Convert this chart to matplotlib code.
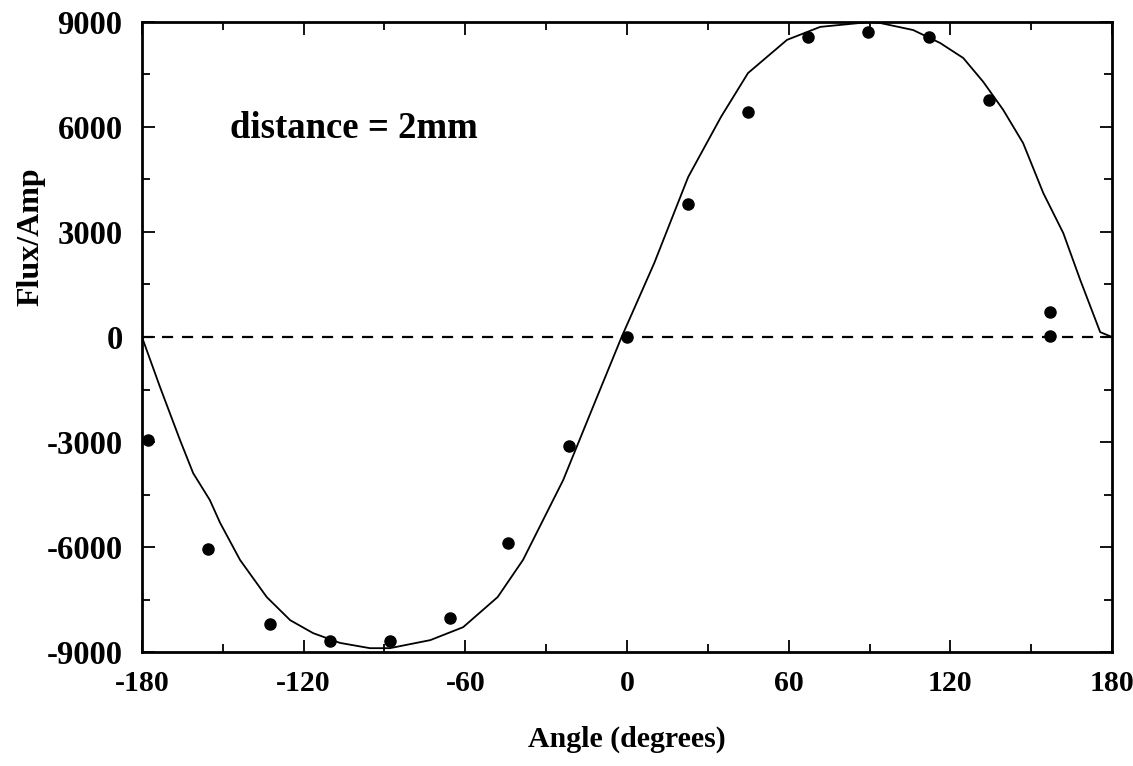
import matplotlib.pyplot as plt
from matplotlib.ticker import MultipleLocator

# measured points
angle = [-177.8, -155.5, -132.5, -110.2, -87.9, -65.7, -44.1, -21.5, 0.0,
         22.7, 45.0, 67.2, 89.5, 112.1, 134.4, 157.0, 157.0]
flux = [-2950, -6060, -8200, -8690, -8690, -8030, -5890, -3110, 0,
        3800, 6430, 8570, 8710, 8570, 6770, 710, 30]

# fitted curve
fit_angle = [-180, -173.3, -165.9, -161, -154.8, -151, -143.6, -133.7, -125,
             -116.5, -106.5, -95.4, -88, -73, -60.8, -48, -38.6, -23.7, -11.1,
             -2, 10.1, 22.7, 34.9, 44.9, 59.4, 71.7, 90.2, 94, 106.2, 116.2,
             124.8, 132.2, 139.6, 147, 154.5, 161.9, 168.2, 175.6, 180]
fit_flux = [0, -1430, -2940, -3890, -4660, -5310, -6370, -7430, -8090,
            -8460, -8740, -8890, -8890, -8660, -8290, -7430, -6370, -4090, -1710,
            0, 2110, 4570, 6290, 7540, 8490, 8860, 9000, 8970, 8770, 8400,
            7970, 7290, 6490, 5540, 4110, 2970, 1630, 140, 0]

plt.rcParams['font.family'] = ['Liberation Serif', 'DejaVu Serif']
plt.rcParams['font.weight'] = 'bold'
plt.rcParams['axes.labelweight'] = 'bold'
plt.rcParams['axes.unicode_minus'] = False

fig = plt.figure(figsize=(11.33, 7.66), dpi=100)
ax = fig.add_axes([0.1253, 0.1488, 0.8562, 0.8225])

ax.plot(fit_angle, fit_flux, color='black', linewidth=1.3)
ax.plot(angle, flux, 'o', color='black', markersize=8)
ax.axhline(0, color='black', linestyle=(0, (5, 4)), linewidth=1.6)

ax.set_xlim(-180, 180)
ax.set_ylim(-9000, 9000)
ax.xaxis.set_major_locator(MultipleLocator(60))
ax.xaxis.set_minor_locator(MultipleLocator(30))
ax.yaxis.set_major_locator(MultipleLocator(3000))
ax.yaxis.set_minor_locator(MultipleLocator(1500))
ax.tick_params(which='both', direction='in', top=True, right=True, width=1.3)
ax.tick_params(which='major', length=9)
ax.tick_params(axis='x', which='major', pad=13, labelsize=21.5)
ax.tick_params(axis='y', which='major', pad=14, labelsize=23.5)
ax.tick_params(which='minor', length=6)
for s in ax.spines.values():
    s.set_linewidth(2)

ax.set_xlabel('Angle (degrees)', fontsize=21.5)
ax.xaxis.set_label_coords(0.5, -0.117)
ax.set_ylabel('Flux/Amp', fontsize=23)
ax.yaxis.set_label_coords(-0.100, 0.659)
ax.text(-147.3, 5970, 'distance = 2mm', fontsize=26.5, va='center')

fig.savefig('out.png', dpi=100)
